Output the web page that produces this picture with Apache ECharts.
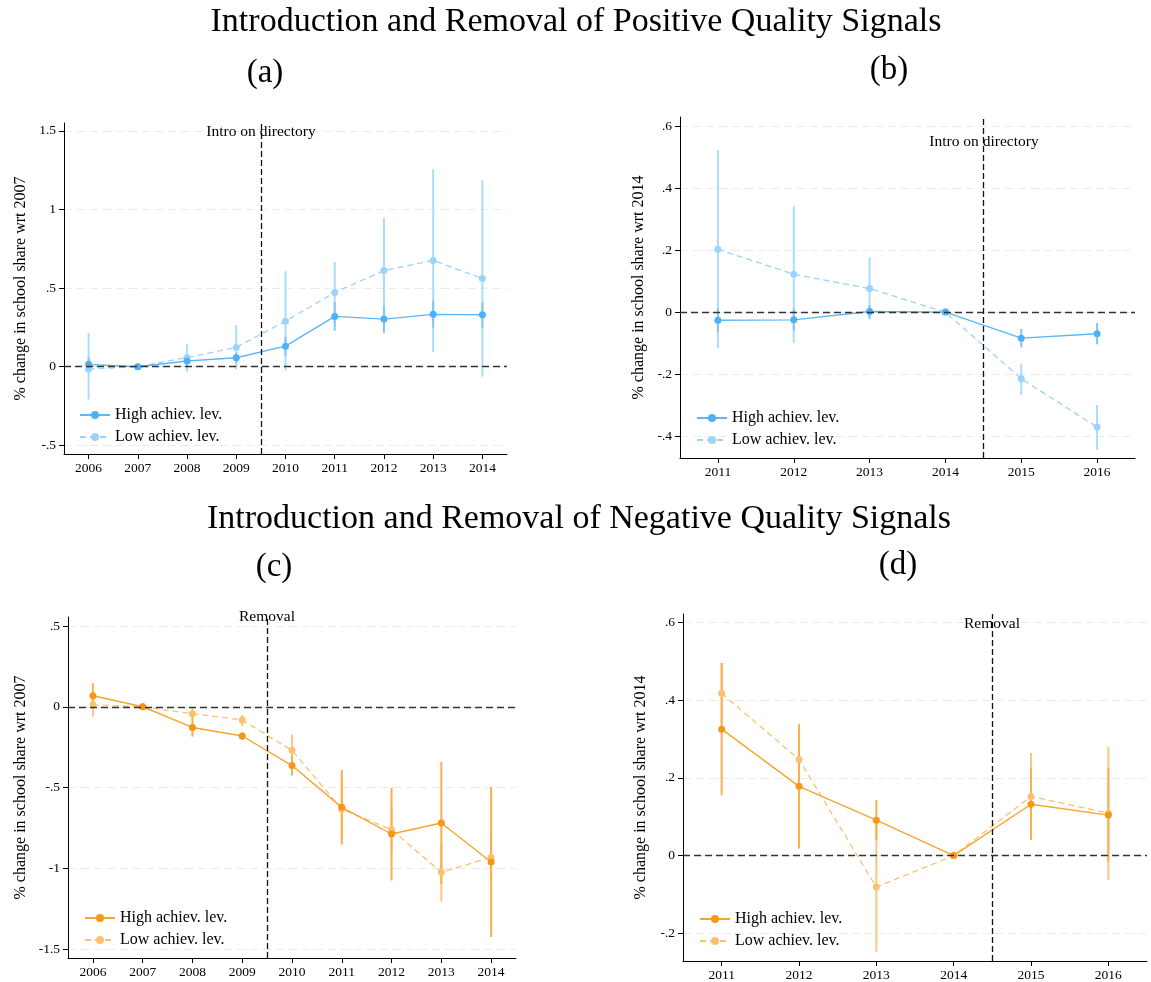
<!DOCTYPE html>
<html>
<head>
<meta charset="utf-8">
<script src="https://cdn.jsdelivr.net/npm/echarts@6/dist/echarts.min.js"></script>
<style>
  html, body { margin: 0; padding: 0; background: #fff; }
  #main { width: 1151px; height: 982px; }
</style>
</head>
<body>
<div id="main"></div>
<script>
// ---- data ----
var yearsA = [2006, 2007, 2008, 2009, 2010, 2011, 2012, 2013, 2014];
var yearsB = [2011, 2012, 2013, 2014, 2015, 2016];

// (a) positive signals, wrt 2007
var highA   = [0.015, 0, 0.036, 0.057, 0.131, 0.320, 0.303, 0.333, 0.331];
var highALo = [-0.03, 0, 0.005, 0.025, 0.07, 0.229, 0.216, 0.25, 0.25];
var highAHi = [0.06, 0, 0.07, 0.09, 0.19, 0.41, 0.39, 0.42, 0.41];
var lowA    = [-0.015, 0, 0.059, 0.123, 0.29, 0.472, 0.612, 0.676, 0.561];
var lowALo  = [-0.208, 0, -0.032, -0.017, -0.025, 0.277, 0.277, 0.093, -0.064];
var lowAHi  = [0.216, 0, 0.142, 0.265, 0.608, 0.667, 0.947, 1.256, 1.186];

// (b) positive signals, wrt 2014
var highB   = [-0.026, -0.025, 0.002, 0, -0.084, -0.070];
var highBLo = [-0.065, -0.06, -0.02, 0, -0.114, -0.104];
var highBHi = [0.012, 0.012, 0.022, 0, -0.054, -0.035];
var lowB    = [0.203, 0.122, 0.076, 0, -0.215, -0.371];
var lowBLo  = [-0.116, -0.099, -0.024, 0, -0.268, -0.445];
var lowBHi  = [0.523, 0.342, 0.177, 0, -0.166, -0.300];

// (c) negative signals, wrt 2007
var highC   = [0.068, 0, -0.128, -0.181, -0.364, -0.623, -0.788, -0.72, -0.961];
var highCLo = [-0.01, 0, -0.185, -0.206, -0.426, -0.854, -1.076, -1.098, -1.426];
var highCHi = [0.146, 0, -0.07, -0.158, -0.302, -0.391, -0.502, -0.342, -0.496];
var lowC    = [0.012, 0, -0.043, -0.082, -0.27, -0.634, -0.761, -1.025, -0.932];
var lowCLo  = [-0.062, 0, -0.08, -0.12, -0.37, -0.82, -0.9, -1.204, -1.08];
var lowCHi  = [0.08, 0, -0.006, -0.05, -0.171, -0.45, -0.62, -0.845, -0.79];

// (d) negative signals, wrt 2014
var highD   = [0.325, 0.178, 0.091, 0, 0.132, 0.104];
var highDLo = [0.155, 0.018, 0.039, 0, 0.04, -0.016];
var highDHi = [0.495, 0.338, 0.143, 0, 0.224, 0.224];
var lowD    = [0.417, 0.247, -0.081, 0, 0.152, 0.109];
var lowDLo  = [0.34, 0.16, -0.247, 0, 0.04, -0.062];
var lowDHi  = [0.495, 0.339, 0.085, 0, 0.264, 0.28];

var ticksA = [-0.5, 0, 0.5, 1, 1.5];
var ticksB = [-0.4, -0.2, 0, 0.2, 0.4, 0.6];
var ticksC = [-1.5, -1, -0.5, 0, 0.5];
var ticksD = [-0.2, 0, 0.2, 0.4, 0.6];

var SERIF = '"Liberation Serif", "Times New Roman", serif';

var blue = { high: '#4fb1f4', highLine: '#5ab8f6', low: '#9cd3fa', ciHigh: '#80c7f8', ciLow: '#abdcfc' };
var orange = { high: '#f8961a', highLine: '#f9a42e', low: '#fcc170', ciHigh: '#fbae4c', ciLow: '#fdc680' };

function tickFmt(v) {
  if (v === 0) return '0';
  var s = String(+v.toFixed(2));
  return s.replace('0.', '.');
}
function yearFmt(v) { return String(v); }

function pairs(xs, ys) {
  return xs.map(function (x, i) { return [x, ys[i]]; });
}
function bars(xs, lo, hi) {
  return xs.map(function (x, i) { return [x, lo[i], hi[i]]; });
}

function errorBar(params, api) {
  var p1 = api.coord([api.value(0), api.value(1)]);
  var p2 = api.coord([api.value(0), api.value(2)]);
  return {
    type: 'line',
    shape: { x1: p1[0], y1: p1[1], x2: p2[0], y2: p2[1] },
    style: { stroke: api.visual('color'), lineWidth: 2 }
  };
}

var grids = [
  { left: 64, top: 123, width: 443, height: 331 },
  { left: 680, top: 117, width: 455, height: 341 },
  { left: 68, top: 617, width: 448, height: 341 },
  { left: 683, top: 614, width: 464, height: 347 }
];

var panels = [
  { years: yearsA, xr: [2005.5, 2014.5], yr: [-0.555, 1.55], ticks: ticksA, vline: 2009.5, nameGap: 35,
    yname: '% change in school share wrt 2007', col: blue, sfx: '',
    high: highA, highLo: highALo, highHi: highAHi, low: lowA, lowLo: lowALo, lowHi: lowAHi },
  { years: yearsB, xr: [2010.5, 2016.5], yr: [-0.471, 0.63], ticks: ticksB, vline: 2014.5, nameGap: 33,
    yname: '% change in school share wrt 2014', col: blue, sfx: '',
    high: highB, highLo: highBLo, highHi: highBHi, low: lowB, lowLo: lowBLo, lowHi: lowBHi },
  { years: yearsA, xr: [2005.5, 2014.5], yr: [-1.556, 0.556], ticks: ticksC, vline: 2009.5, nameGap: 39,
    yname: '% change in school share wrt 2007', col: orange, sfx: ' ',
    high: highC, highLo: highCLo, highHi: highCHi, low: lowC, lowLo: lowCLo, lowHi: lowCHi },
  { years: yearsB, xr: [2010.5, 2016.5], yr: [-0.271, 0.621], ticks: ticksD, vline: 2014.5, nameGap: 34,
    yname: '% change in school share wrt 2014', col: orange, sfx: ' ',
    high: highD, highLo: highDLo, highHi: highDHi, low: lowD, lowLo: lowDLo, lowHi: lowDHi }
];

var xAxes = [], yAxes = [], series = [], legends = [];
var legendPos = [
  { left: 74, top: 402 },
  { left: 691, top: 405 },
  { left: 79, top: 905 },
  { left: 694, top: 906 }
];

panels.forEach(function (p, i) {
  xAxes.push({
    gridIndex: i, type: 'value', min: p.xr[0], max: p.xr[1],
    axisLine: { show: true, onZero: false, lineStyle: { color: '#000', width: 1 } },
    axisTick: { show: true, customValues: p.years, length: 5, lineStyle: { color: '#000' } },
    axisLabel: { customValues: p.years, color: '#000', fontFamily: SERIF, fontSize: 13.5, margin: 7, formatter: yearFmt },
    splitLine: { show: false }
  });
  yAxes.push({
    gridIndex: i, type: 'value', min: p.yr[0], max: p.yr[1],
    name: p.yname, nameLocation: 'middle', nameGap: p.nameGap,
    nameTextStyle: { color: '#000', fontFamily: SERIF, fontSize: 16 },
    axisLine: { show: true, onZero: false, lineStyle: { color: '#000', width: 1 } },
    axisTick: { show: true, customValues: p.ticks, length: 5, lineStyle: { color: '#000' } },
    axisLabel: { customValues: p.ticks, color: '#000', fontFamily: SERIF, fontSize: 13.5, margin: 8, formatter: tickFmt },
    splitLine: { show: true, lineStyle: { color: '#ebebeb', type: [8, 5], width: 1 } }
  });

  var hName = 'High achiev. lev.' + p.sfx;
  var lName = 'Low achiev. lev.' + p.sfx;

  series.push({
    type: 'custom', xAxisIndex: i, yAxisIndex: i, z: 1,
    renderItem: errorBar, itemStyle: { color: p.col.ciLow },
    encode: { x: 0, y: [1, 2] },
    data: bars(p.years, p.lowLo, p.lowHi)
  });
  series.push({
    type: 'custom', xAxisIndex: i, yAxisIndex: i, z: 1,
    renderItem: errorBar, itemStyle: { color: p.col.ciHigh },
    encode: { x: 0, y: [1, 2] },
    data: bars(p.years, p.highLo, p.highHi)
  });
  series.push({
    name: lName, type: 'line', xAxisIndex: i, yAxisIndex: i, z: 3,
    symbol: 'circle', symbolSize: 7,
    itemStyle: { color: p.col.low },
    lineStyle: { color: p.col.low, width: 1.3, type: [6, 4] },
    data: pairs(p.years, p.low)
  });
  series.push({
    name: hName, type: 'line', xAxisIndex: i, yAxisIndex: i, z: 4,
    symbol: 'circle', symbolSize: 7,
    itemStyle: { color: p.col.high },
    lineStyle: { color: p.col.highLine, width: 1.4 },
    data: pairs(p.years, p.high),
    markLine: {
      silent: true, symbol: 'none', animation: false,
      label: { show: false },
      data: [
        { yAxis: 0, lineStyle: { color: '#333', type: [7, 4], width: 1.4 } },
        { xAxis: p.vline, lineStyle: { color: '#111', type: [6, 3], width: 1.3 } }
      ]
    }
  });

  legends.push({
    orient: 'vertical', left: legendPos[i].left, top: legendPos[i].top,
    itemWidth: 30, itemHeight: 10, itemGap: 6,
    textStyle: { color: '#000', fontFamily: SERIF, fontSize: 16 },
    data: [hName, lName],
    selectedMode: false
  });
});

function txt(x, y, s, size) {
  return {
    type: 'text', x: x, y: y, z: 10,
    style: {
      text: s, font: size + 'px ' + SERIF, fill: '#000',
      align: 'center', verticalAlign: 'middle', textAlign: 'center', textVerticalAlign: 'middle'
    }
  };
}

var chart = echarts.init(document.getElementById('main'));
chart.setOption({
  animation: false,
  backgroundColor: '#fff',
  grid: grids,
  xAxis: xAxes,
  yAxis: yAxes,
  legend: legends,
  series: series,
  graphic: [
    txt(576, 22, 'Introduction and Removal of Positive Quality Signals', 34),
    txt(265, 73, '(a)', 33),
    txt(889, 70, '(b)', 33),
    txt(579, 519, 'Introduction and Removal of Negative Quality Signals', 34),
    txt(274, 567, '(c)', 33),
    txt(898, 565, '(d)', 33),
    txt(261, 132, 'Intro on directory', 15.5),
    txt(984, 142, 'Intro on directory', 15.5),
    txt(267, 617, 'Removal', 15.5),
    txt(992, 624, 'Removal', 15.5)
  ]
});
</script>
</body>
</html>
